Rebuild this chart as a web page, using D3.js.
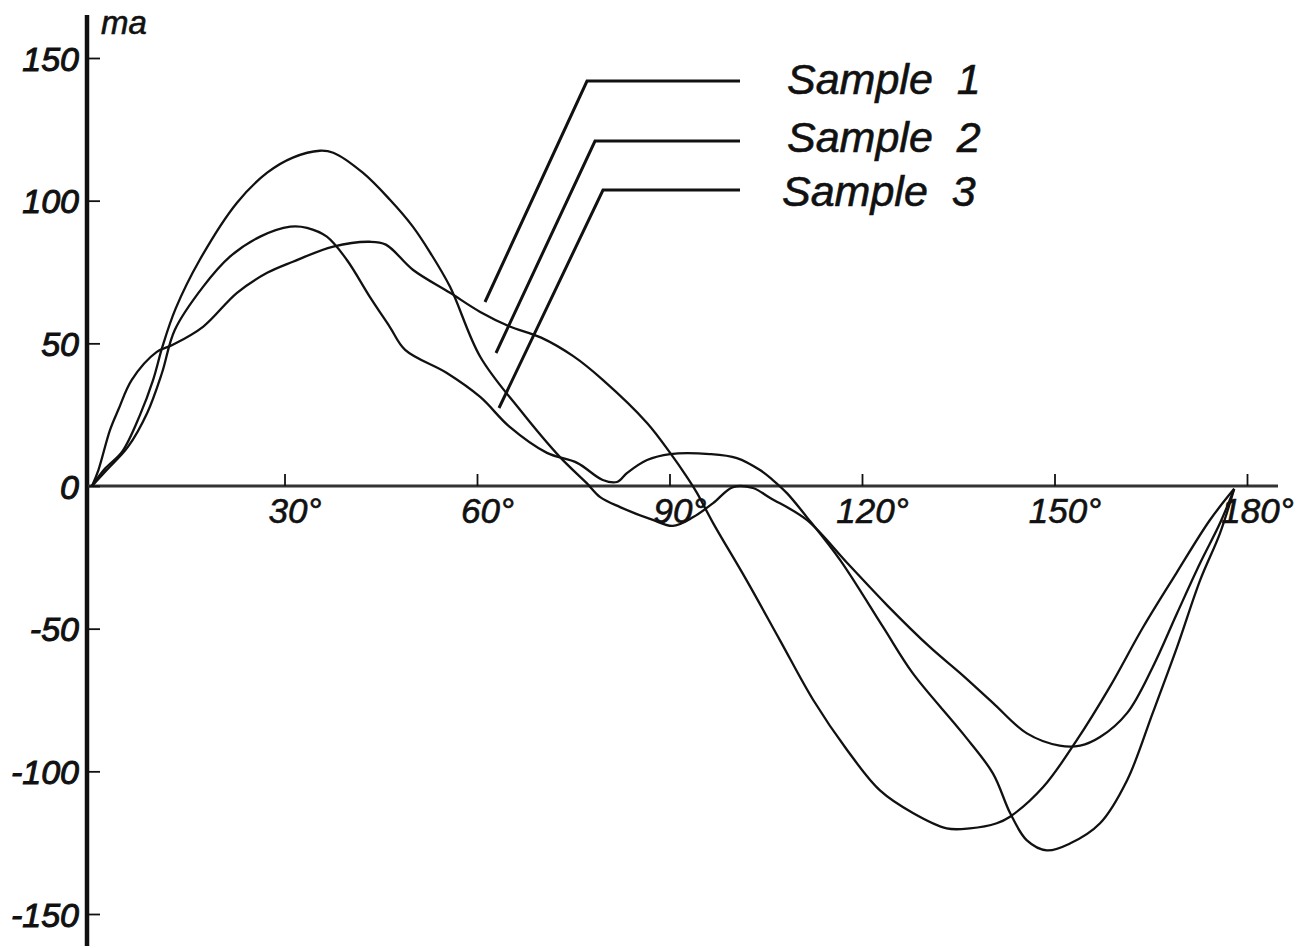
<!DOCTYPE html>
<html>
<head>
<meta charset="utf-8">
<script src="https://cdn.jsdelivr.net/npm/d3@7"></script>
<style>
  body { margin: 0; background: #fff; }
  svg { display: block; }
  text { font-family: "Liberation Sans", Arial, sans-serif; font-style: italic; fill: #111; stroke: #111; stroke-width: 0.6px; }
</style>
</head>
<body>
<svg id="chart"></svg>
<script>
// Chart size
var width = 1311, height = 948;

// Angle (degrees) and current (ma)
var sample1 = [
  [0, 0], [1, 5.6], [2.8, 19.6], [4.1, 26.7], [6.2, 37.2], [10.1, 47], [12.6, 49.5],
  [17.3, 55.8], [22.6, 67.7], [27.3, 74.7], [31.3, 78.6], [37.6, 83.9], [43.3, 85.6],
  [45.8, 84.6], [50, 75.8], [55.8, 67.7], [60.5, 61], [65, 56], [70, 52],
  [75, 45.5], [79.6, 37.2], [86.5, 22.1], [90.1, 11.6], [92.7, 3.2], [94.3, -2.5],
  [96.8, -13], [102, -33], [107.2, -54], [112.4, -75], [117.7, -92.6], [122.8, -106.7],
  [128, -114.7], [133.2, -120], [136.8, -120], [141, -118.2], [143, -116], [148.2, -105.6],
  [153.5, -89], [158.6, -70.5], [163.8, -49.5], [169, -30.5], [174.2, -12], [178, -1]
];
var sample2 = [
  [0, 0], [2, 6], [4.7, 12], [7.5, 25], [9.5, 37], [11, 49], [13, 62],
  [16.8, 79.3], [22.6, 99.3], [27.3, 109.8], [31.3, 115.1], [35.5, 117.5], [37.6, 116.8],
  [42.2, 109.8], [46.4, 100.4], [50, 90.9], [52.7, 81.8], [55.8, 69.8], [60.5, 45.3],
  [66.7, 26.7], [72.9, 10.2], [77.1, 1], [79.2, -3.9], [82.3, -7.4], [87.4, -11.9],
  [90.5, -14], [93.7, -10.9], [96.8, -6], [99.9, -0.4], [103, -0.7], [105.7, -4.2],
  [111.4, -11.9], [117.7, -27], [124, -42], [130.6, -56.5], [135.3, -65.6],
  [140.4, -76], [145.7, -86.7], [150.8, -91], [154, -91], [157.1, -88], [161.3, -79.6],
  [165.3, -63.5], [169.1, -44.6], [172.7, -27], [175.8, -13], [178, -1]
];
var sample3 = [
  [0, 0], [2.3, 5.6], [5.6, 13.7], [8.6, 25.6], [10.9, 39.6], [12.9, 54.7], [17.3, 69.8],
  [21.5, 80.4], [26.2, 87.4], [30.9, 90.9], [33.5, 90.5], [36.6, 87.4], [39.7, 79.3],
  [43.3, 66.3], [46.4, 55.8], [48.8, 47.7], [55.3, 39.6], [60.5, 31.2],
  [65.1, 20.7], [70.9, 11.6], [75.6, 8.1], [79.6, 2.1], [81.8, 1.4], [83.4, 4.6],
  [86.5, 9.1], [90.1, 11.2], [96.3, 11.2], [100.5, 9.8], [104.1, 5.6], [106.1, 2.1],
  [108.3, -2.5], [111.4, -10.9], [116.6, -26], [123.3, -49.5], [127.9, -65.6],
  [135.7, -86.7], [140.4, -100.7], [143.1, -114.7], [145.7, -124.2], [148.8, -127.7],
  [152.4, -125.3], [157.1, -118.2], [161.3, -103.2], [165.3, -79.6], [169.1, -56.5],
  [172.7, -33], [175.8, -16.5], [178, -1]
];

var seriesNames = ["Sample 1", "Sample 2", "Sample 3"];
var xTicks = [30, 60, 90, 120, 150, 180];
var xTickLabels = ["30°", "60°", "90°", "120°", "150°", "180°"];
var yTicks = [150, 100, 50, 0, -50, -100, -150];
var yTickLabels = ["150", "100", "50", "0", "-50", "-100", "-150"];

// Scales
var x = d3.scaleLinear().domain([0, 180]).range([92, 1247]);
var y = d3.scaleLinear().domain([-150, 150]).range([914, 58]);

var svg = d3.select("#chart")
  .attr("width", width)
  .attr("height", height);

// Vertical axis line (heavy)
svg.append("line")
  .attr("x1", 87).attr("x2", 87)
  .attr("y1", 15).attr("y2", 946)
  .attr("stroke", "#111")
  .attr("stroke-width", 4.5);

// Horizontal zero line
svg.append("line")
  .attr("x1", 88).attr("x2", 1278)
  .attr("y1", y(0)).attr("y2", y(0))
  .attr("stroke", "#333")
  .attr("stroke-width", 3);

// Y ticks to the right, labels to the left
var yAxis = svg.append("g")
  .attr("transform", "translate(89,0)")
  .call(d3.axisLeft(y)
    .tickValues(yTicks)
    .tickSize(-11)
    .tickPadding(10)
    .tickFormat(function(d, i) { return yTickLabels[i]; }));
yAxis.select(".domain").remove();
yAxis.selectAll(".tick line").attr("stroke", "#111").attr("stroke-width", 1.8);
yAxis.selectAll(".tick text")
  .attr("font-size", 34)
  .attr("font-family", null)
  .attr("dy", "0.36em")
  .style("fill", "#111")
  .style("stroke-width", "1px");

// X ticks upward, degree labels below
var xAxis = svg.append("g")
  .attr("transform", "translate(0," + y(0) + ")")
  .call(d3.axisBottom(x)
    .tickValues(xTicks)
    .tickSize(-12)
    .tickPadding(12)
    .tickFormat(function(d, i) { return xTickLabels[i]; }));
xAxis.select(".domain").remove();
xAxis.selectAll(".tick line").attr("stroke", "#111").attr("stroke-width", 1.8);
xAxis.selectAll(".tick text")
  .attr("font-size", 35)
  .attr("font-family", null)
  .attr("dx", 10)
  .style("fill", "#111");

// Unit label
svg.append("text")
  .attr("x", 101)
  .attr("y", 34)
  .attr("font-size", 33)
  .text("ma");

// Curves
var line = d3.line()
  .x(function(d) { return x(d[0]); })
  .y(function(d) { return y(d[1]); })
  .curve(d3.curveCatmullRom.alpha(0.5));

svg.selectAll(".curve")
  .data([sample1, sample2, sample3])
  .enter().append("path")
  .attr("class", "curve")
  .attr("d", line)
  .attr("fill", "none")
  .attr("stroke", "#111")
  .attr("stroke-width", 2.3)
  .attr("stroke-linejoin", "round");

// Legend with leader lines
var legendTop = [81, 141, 190];
var legendElbow = [587, 595, 603];
var legendTip = [[485, 302], [496, 353], [499, 408]];
var legendTextX = [787, 787, 782];
var legendTextY = [94, 152, 206];

seriesNames.forEach(function(name, i) {
  svg.append("polyline")
    .attr("points", [[740, legendTop[i]], [legendElbow[i], legendTop[i]], legendTip[i]].join(" "))
    .attr("fill", "none")
    .attr("stroke", "#111")
    .attr("stroke-width", 3);

  svg.append("text")
    .attr("x", legendTextX[i])
    .attr("y", legendTextY[i])
    .attr("font-size", 43)
    .style("word-spacing", "12px")
    .text(name);
});
</script>
</body>
</html>
